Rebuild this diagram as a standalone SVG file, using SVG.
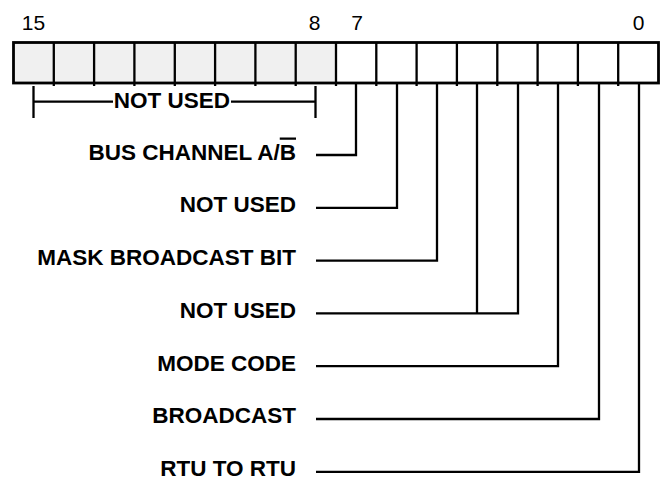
<svg xmlns="http://www.w3.org/2000/svg" width="662" height="478" viewBox="0 0 662 478">
<style>
.num{font-family:"Liberation Sans",Arial,sans-serif;font-size:21px;fill:#000;text-anchor:middle}
.lbl{font-family:"Liberation Sans",Arial,sans-serif;font-size:22.5px;font-weight:bold;fill:#000;text-anchor:end}
.ctr{text-anchor:middle}
.div{stroke:#000;stroke-width:2.3;fill:none}
.con{stroke:#000;stroke-width:2.3;fill:none}
</style>
<rect width="662" height="478" fill="#fff"/>
<g id="register">
<rect x="13.5" y="42.5" width="322.5" height="40.5" fill="#f0f0f0"/>
<g class="div">
<path d="M53.8 42.5V86M94.1 42.5V86M134.4 42.5V86M174.8 42.5V86M215.1 42.5V86M255.4 42.5V86M295.7 42.5V86M336 42.5V86M376.3 42.5V86M416.6 42.5V86M456.9 42.5V86M497.3 42.5V86M537.6 42.5V86M577.9 42.5V86M618.2 42.5V86"/>
</g>
<rect x="13.5" y="42.5" width="645" height="40.5" fill="none" stroke="#000" stroke-width="2.8"/>
</g>
<g id="bit-numbers">
<text class="num" x="33.5" y="30">15</text>
<text class="num" x="314.5" y="30">8</text>
<text class="num" x="357" y="30">7</text>
<text class="num" x="638.5" y="30">0</text>
</g>
<g id="not-used-upper">
<text class="lbl ctr" x="172" y="108">NOT USED</text>
</g>
<g id="label-bus-channel"><text class="lbl" x="296" y="159.5">BUS CHANNEL A/<tspan text-decoration="overline">B</tspan></text></g>
<g id="label-not-used-6"><text class="lbl" x="296" y="212.3">NOT USED</text></g>
<g id="label-mask-broadcast"><text class="lbl" x="296" y="265">MASK BROADCAST BIT</text></g>
<g id="label-not-used-4-3"><text class="lbl" x="296" y="317.8">NOT USED</text></g>
<g id="label-mode-code"><text class="lbl" x="296" y="370.6">MODE CODE</text></g>
<g id="label-broadcast"><text class="lbl" x="296" y="423.3">BROADCAST</text></g>
<g id="label-rtu-to-rtu"><text class="lbl" x="296" y="476">RTU TO RTU</text></g>
<g id="connectors" class="con">
<path d="M33.5 86V118M315.5 86V118M33.5 101.7H113M231 101.7H315.5"/>
<path d="M356 83V155H316"/>
<path d="M397 83V207.8H316"/>
<path d="M437 83V260.6H316"/>
<path d="M477 83V313.4M518 83V313.4H316"/>
<path d="M558 83V366.2H316"/>
<path d="M599 83V419H316"/>
<path d="M639 83V471.8H316"/>
</g>
</svg>
